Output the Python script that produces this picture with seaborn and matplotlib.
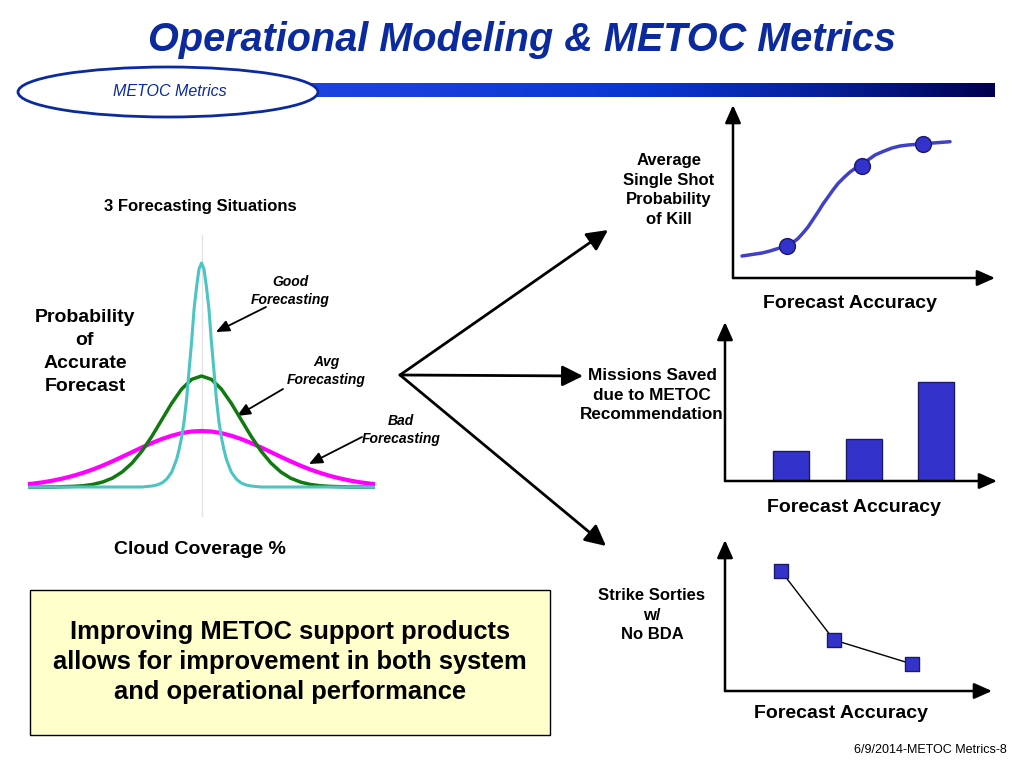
import numpy as np
import pandas as pd
import matplotlib
matplotlib.use("Agg")
import matplotlib.pyplot as plt
from matplotlib.patches import Ellipse, Rectangle
from matplotlib.colors import LinearSegmentedColormap
import seaborn as sns

# ---------------- data ----------------
# Left panel: three forecasting situations (cloud coverage offset vs probability)
good_x = [-175, -60, -50, -45, -40, -35, -30, -25, -22.5, -20, -17.5, -15, -12.5,
          -10, -7.5, -5, -2.5, 0, 2.5, 5, 7.5, 10, 12.5, 15, 17.5, 20, 22.5, 25,
          30, 35, 40, 45, 50, 60, 175]
good_y = [0, 0, 1, 2, 4, 8, 15, 28, 38, 50, 66, 88, 117,
          145, 178, 200, 218, 224, 218, 200, 178, 145, 117, 88, 66, 50, 38, 28,
          15, 8, 4, 2, 1, 0, 0]

wide_x = [-175, -170, -160, -150, -140, -130, -120, -110, -100, -90, -80, -70,
          -60, -50, -40, -30, -20, -10, 0, 10, 20, 30, 40, 50, 60, 70, 80, 90,
          100, 110, 120, 130, 140, 150, 160, 170, 175]
avg_y = [0, 0, 0, 0, 0.3, 0.6, 1.2, 2.5, 4.9, 8.8, 15, 24, 36, 50.8, 67.3, 83.8,
         98, 107.6, 111, 107.6, 98, 83.8, 67.3, 50.8, 36, 24, 15, 8.8, 4.9, 2.5,
         1.2, 0.6, 0.3, 0, 0, 0, 0]
bad_y = [2.9, 3.4, 4.7, 6.4, 8.5, 11.0, 14.0, 17.4, 21.3, 25.6, 30.2, 34.9, 39.6,
         44.0, 48.0, 51.3, 53.9, 55.5, 56, 55.5, 53.9, 51.3, 48.0, 44.0, 39.6,
         34.9, 30.2, 25.6, 21.3, 17.4, 14.0, 11.0, 8.5, 6.4, 4.7, 3.4, 2.9]

# Right top: average single shot probability of kill vs forecast accuracy
pk_x = [9, 19, 29, 37, 45, 54, 60, 65, 70, 75, 80, 85, 90, 95, 100, 105, 111,
        117, 122, 128, 135, 142, 150, 159, 167, 175, 183, 190, 200, 208, 217]
pk_y = [22, 23.5, 25, 27, 29.5, 32, 35.5, 39.5, 45, 51, 58.5, 66, 74, 81, 88,
        94.5, 100.5, 106, 109.5, 113, 118, 123, 126.5, 130, 132, 133, 133.6, 134,
        135, 135.6, 136.3]
pk_mark_x = [54, 129, 190]
pk_mark_y = [32, 112, 134]

# Right middle: missions saved due to METOC recommendation
acc_levels = ["Low", "Medium", "High"]
missions_saved = [30, 42, 99]

# Right bottom: strike sorties w/ no BDA
sortie_x = [56, 109, 187]
sortie_y = [120, 51, 27]

# ---------------- style ----------------
sns.set_style("white")
plt.rcParams['font.family'] = ['Liberation Sans', 'DejaVu Sans']
plt.rcParams['text.color'] = 'black'

W, H = 1024, 768
fig = plt.figure(figsize=(10.24, 7.68), dpi=100)


def rect(x0, y0, x1, y1):
    return [x0 / W, 1 - y1 / H, (x1 - x0) / W, (y1 - y0) / H]


NAVY = "#0B2A9E"
BLUE = "#3333CC"
EDGE = "#1A1A66"

# overlay axes in pixel coordinates
ov = fig.add_axes([0, 0, 1, 1])
ov.axis('off')

# header gradient bar
cmap = LinearSegmentedColormap.from_list(
    "hdr", [(0, "#1E44E0"), (0.5, "#0A36D0"), (0.75, "#06209A"), (1, "#000050")])
ov.imshow(np.linspace(0, 1, 256)[None, :], extent=(300, 995, 97, 83),
          cmap=cmap, aspect='auto', zorder=1)
ov.set_xlim(0, W)
ov.set_ylim(H, 0)
ov.add_patch(Ellipse((168, 92), 300, 50, fc='white', ec=NAVY, lw=2, zorder=2))
ov.text(170, 92, "METOC Metrics", ha='center', va='center', fontsize=11.5,
        style='italic', color=NAVY, zorder=3)

# title
ov.text(522, 40, "Operational Modeling & METOC Metrics", ha='center', va='center',
        fontsize=28.5, fontweight='bold', style='italic', color=NAVY)

# left panel texts
ov.text(200, 207, "3 Forecasting Situations", ha='center', va='center',
        fontsize=12, fontweight='bold')
ov.text(85, 352, "Probability\nof\nAccurate\nForecast", ha='center', va='center',
        fontsize=14, fontweight='bold', linespacing=1.45)
ov.text(200, 549, "Cloud Coverage %", ha='center', va='center',
        fontsize=14, fontweight='bold')

for (tx, ty, s) in [(290, 291, "Good\nForecasting"), (326, 371, "Avg\nForecasting"),
                    (401, 430, "Bad\nForecasting")]:
    ov.text(tx, ty, s, ha='center', va='center', fontsize=10, fontweight='bold',
            style='italic', linespacing=1.3)

small = dict(arrowstyle='-|>,head_length=0.8,head_width=0.35', color='black', lw=1.3,
             shrinkA=0, shrinkB=0, mutation_scale=10)
ov.annotate('', xy=(216, 332), xytext=(266, 307), arrowprops=small)
ov.annotate('', xy=(237, 416), xytext=(283, 389), arrowprops=small)
ov.annotate('', xy=(309, 464), xytext=(362, 437), arrowprops=small)

# big arrows
big = dict(arrowstyle='-|>,head_length=0.9,head_width=0.45', color='black', lw=2,
           shrinkA=0, shrinkB=0, mutation_scale=14)
for tip in [(608, 230), (583, 376), (606, 546)]:
    ov.annotate('', xy=tip, xytext=(400, 375), arrowprops=big)

# right panel labels
ov.text(669, 190, "Average\nSingle Shot\nProbability\nof Kill", ha='center',
        va='center', fontsize=12, fontweight='bold', linespacing=1.4)
ov.text(652, 395, "Missions Saved\ndue to METOC\nRecommendation", ha='center',
        va='center', fontsize=12.3, fontweight='bold', linespacing=1.4)
ov.text(652, 615, "Strike Sorties\nw/\nNo BDA", ha='center', va='center',
        fontsize=12, fontweight='bold', linespacing=1.4)
ov.text(850, 303, "Forecast Accuracy", ha='center', va='center', fontsize=14,
        fontweight='bold')
ov.text(854, 508, "Forecast Accuracy", ha='center', va='center', fontsize=14,
        fontweight='bold')
ov.text(841, 714, "Forecast Accuracy", ha='center', va='center', fontsize=14,
        fontweight='bold')

# yellow text box
ov.add_patch(Rectangle((30, 590), 520, 145, fc='#FFFFCC', ec='black', lw=1))
ov.text(290, 662, "Improving METOC support products\nallows for improvement in both system\nand operational performance",
        ha='center', va='center', fontsize=18.4, fontweight='bold', linespacing=1.32)

# footer
ov.text(1007, 750, "6/9/2014-METOC Metrics-8", ha='right', va='center', fontsize=9)


def clean(ax):
    ax.patch.set_alpha(0)
    for s in ax.spines.values():
        s.set_visible(False)
    ax.set_xticks([])
    ax.set_yticks([])
    ax.set_xlabel('')
    ax.set_ylabel('')


axis_arrow = dict(arrowstyle='-|>,head_length=0.9,head_width=0.4', color='black',
                  lw=1.8, shrinkA=0, shrinkB=0, mutation_scale=12)


def arrows(ax):
    ax.annotate('', xy=(0, 1), xytext=(0, 0), xycoords='axes fraction',
                textcoords='axes fraction', arrowprops=axis_arrow, annotation_clip=False)
    ax.annotate('', xy=(1, 0), xytext=(0, 0), xycoords='axes fraction',
                textcoords='axes fraction', arrowprops=axis_arrow, annotation_clip=False)


# ---------------- bell curves ----------------
axb = fig.add_axes(rect(28, 235, 375, 517))
axb.axvline(0, color='#E4E4E4', lw=1, zorder=0)
sns.lineplot(x=wide_x, y=bad_y, ax=axb, color='#FF00FF', lw=3)
sns.lineplot(x=wide_x, y=avg_y, ax=axb, color='#107A10', lw=2.5)
sns.lineplot(x=good_x, y=good_y, ax=axb, color='#4CC4C4', lw=2.2)
for ln in axb.lines:
    ln.set_solid_joinstyle('round')
axb.set_xlim(-175, 175)
axb.set_ylim(-30, 252)
clean(axb)

# ---------------- chart 1: probability of kill ----------------
ax1 = fig.add_axes(rect(733, 105, 995, 278))
sns.lineplot(x=pk_x, y=pk_y, ax=ax1, color='#4040C8', lw=2.5)
ax1.lines[-1].set_solid_joinstyle('round')
sns.scatterplot(x=pk_mark_x, y=pk_mark_y, ax=ax1, s=130, color=BLUE,
                edgecolor=EDGE, linewidth=1, zorder=5)
ax1.set_xlim(0, 262)
ax1.set_ylim(0, 173)
clean(ax1)
arrows(ax1)

# ---------------- chart 2: missions saved ----------------
ax2 = fig.add_axes(rect(725, 322, 997, 481))
df2 = pd.DataFrame({"acc": acc_levels, "saved": missions_saved})
sns.barplot(data=df2, x="acc", y="saved", ax=ax2, color=BLUE, saturation=1,
            width=0.5, edgecolor=EDGE, linewidth=1)
ax2.set_xlim(-0.916, 2.84)
ax2.set_ylim(0, 159)
clean(ax2)
arrows(ax2)

# ---------------- chart 3: strike sorties ----------------
ax3 = fig.add_axes(rect(725, 540, 992, 691))
sns.lineplot(x=sortie_x, y=sortie_y, ax=ax3, color='black', lw=1)
sns.scatterplot(x=sortie_x, y=sortie_y, ax=ax3, marker='s', s=90, color=BLUE,
                edgecolor=EDGE, linewidth=1, zorder=5)
ax3.set_xlim(0, 267)
ax3.set_ylim(0, 151)
clean(ax3)
arrows(ax3)

fig.savefig("out.png", dpi=100)
